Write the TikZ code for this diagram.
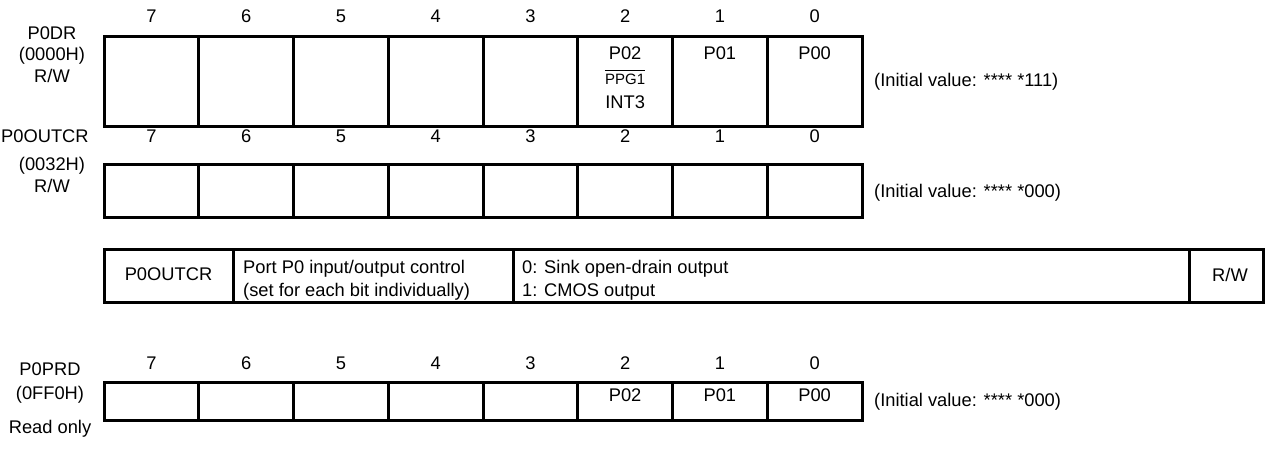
\documentclass[tikz,border=0pt]{standalone}
\usepackage{fontspec}
\setmainfont{Liberation Sans}
\usetikzlibrary{positioning}

\begin{document}
\begin{tikzpicture}[x=1pt, y=-1pt,
    every node/.style={font=\fontsize{18.3}{21}\selectfont, inner sep=0pt, anchor=base},
    reg/.style={line width=3pt, black},
    lefttxt/.style={anchor=base west},
    smalltxt/.style={font=\fontsize{15}{18}\selectfont}]
\useasboundingbox (0,0) rectangle (1266,450);

% P0DR
\draw [reg] (104,36) rectangle (862,126);
\foreach \x in {1,...,7} {
    \draw [reg] ({104+94.75*\x},36) -- ({104+94.75*\x},126);
}
\foreach \b in {0,...,7} {
    \node (drbit\b) at ({104+94.75*(7-\b)+47.375},22.5) {\b};
}
\node (drname) at (52,39.5) {P0DR};
\node (draddr) at (52,60.5) {(0000H)};
\node (drrw) at (52,82.5) {R/W};
\node (drp02) at (625.125,59) {P02};
\node [smalltxt] (drppg) at (625.125,84.4) {PPG1};
\draw [line width=1.2pt] ([yshift=3pt]drppg.north west) -- ([yshift=3pt]drppg.north east);
\node (drint) at (625.125,108) {INT3};
\node (drp01) at (719.875,59) {P01};
\node (drp00) at (814.625,59) {P00};
\node [lefttxt] (drinit) at (874,86.5) {(Initial value: **** *111)};

% P0OUTCR
\draw [reg] (104,164) rectangle (862,217);
\foreach \x in {1,...,7} {
    \draw [reg] ({104+94.75*\x},164) -- ({104+94.75*\x},217);
}
\foreach \b in {0,...,7} {
    \node (ocbit\b) at ({104+94.75*(7-\b)+47.375},142.5) {\b};
}
\node [lefttxt] (ocname) at (1,142.5) {P0OUTCR};
\node (ocaddr) at (52,170.5) {(0032H)};
\node (ocrw) at (52,192.5) {R/W};
\node [lefttxt] (ocinit) at (874,197) {(Initial value: **** *000)};

% bit table of P0OUTCR
\draw [reg] (104,249) rectangle (1263,302);
\foreach \x in {233,513,1189} {
    \draw [reg] (\x,249) -- (\x,302);
}
\node (tbname) at (168.5,280.5) {P0OUTCR};
\node [lefttxt] (tbfunc) at (243,273.5) {Port P0 input/output control};
\node [lefttxt] (tbfunc2) at (243,296.5) {(set for each bit individually)};
\node [lefttxt] (tbset0) at (522,273.5) {0: Sink open-drain output};
\node [lefttxt] (tbset1) at (522,296.5) {1: CMOS output};
\node (tbrw) at (1230,281.5) {R/W};

% P0PRD
\draw [reg] (104,382) rectangle (862,420);
\foreach \x in {1,...,7} {
    \draw [reg] ({104+94.75*\x},382) -- ({104+94.75*\x},420);
}
\foreach \b in {0,...,7} {
    \node (prbit\b) at ({104+94.75*(7-\b)+47.375},369) {\b};
}
\node (prname) at (50,375.5) {P0PRD};
\node (praddr) at (50,399.5) {(0FF0H)};
\node (prro) at (50,433.5) {Read only};
\node (prp02) at (625.125,401.5) {P02};
\node (prp01) at (719.875,401.5) {P01};
\node (prp00) at (814.625,401.5) {P00};
\node [lefttxt] (prinit) at (874,406.5) {(Initial value: **** *000)};
\end{tikzpicture}
\end{document}
